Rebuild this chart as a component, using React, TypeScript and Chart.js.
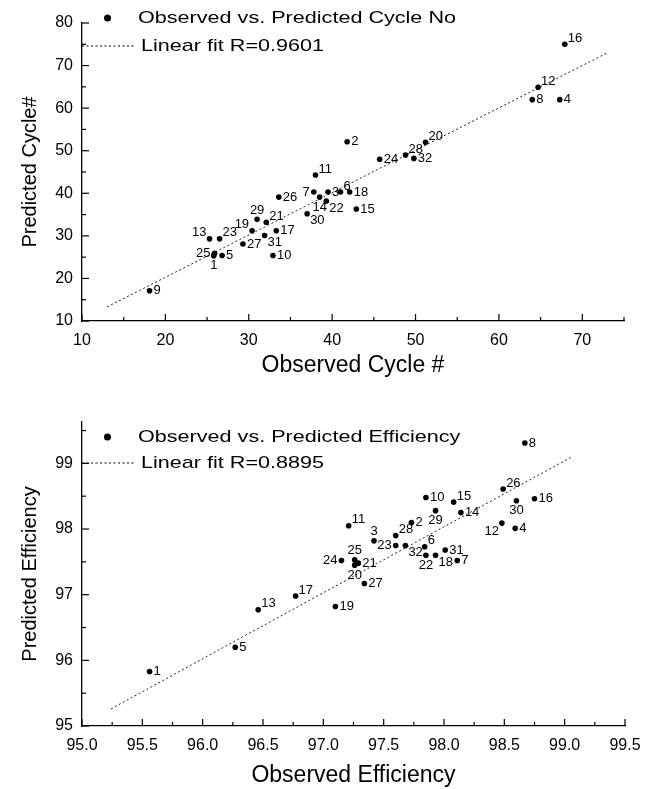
import React, { useEffect, useRef } from "react";
import { Chart, registerables } from "chart.js";

Chart.register(...registerables);

const FONT = '"Liberation Sans", Arial, Helvetica, sans-serif';

// ---------- Chart 1: cycle number ----------
const cycleIds = [1, 2, 3, 4, 5, 6, 7, 8, 9, 10, 11, 12, 13, 14, 15, 16, 17, 18, 19, 20, 21, 22, 23, 24, 25, 26, 27, 28, 29, 30, 31, 32];
const cycleObserved = [25.8, 41.8, 39.5, 67.3, 26.8, 41.0, 37.8, 64.0, 18.1, 32.9, 38.0, 64.7, 25.3, 38.5, 42.9, 67.9, 33.3, 42.1, 30.4, 51.2, 32.1, 39.3, 26.5, 45.7, 25.9, 33.6, 29.3, 48.8, 31.0, 37.0, 31.9, 49.8];
const cyclePredicted = [25.3, 52.1, 40.3, 62.0, 25.4, 40.3, 40.3, 62.0, 17.1, 25.4, 44.3, 64.9, 29.3, 39.1, 36.3, 75.0, 31.2, 40.3, 31.2, 52.0, 33.2, 38.2, 29.3, 48.0, 25.9, 39.1, 28.1, 49.0, 33.9, 35.2, 30.1, 48.2];
const cycleLabelSide = ["b", "r", "r", "r", "r", "ar", "l", "r", "r", "r", "ar", "ar", "al", "b", "r", "ar", "r", "r", "al", "ar", "ar", "br", "ar", "r", "l", "r", "r", "ar", "a", "br", "br", "r"];
const cycleFitObserved = [13.0, 72.9];
const cycleFitPredicted = [13.3, 72.9];
const cycleXTicks = [10, 20, 30, 40, 50, 60, 70];
const cycleXMinor = [15, 25, 35, 45, 55, 65, 75];
const cycleYTicks = [10, 20, 30, 40, 50, 60, 70, 80];
const cycleYMinor = [15, 25, 35, 45, 55, 65, 75];

// ---------- Chart 2: efficiency ----------
const effIds = [1, 2, 3, 4, 5, 6, 7, 8, 10, 11, 12, 13, 14, 15, 16, 17, 18, 19, 20, 21, 22, 23, 24, 25, 26, 27, 28, 29, 30, 31, 32];
const effObserved = [95.56, 97.73, 97.42, 98.59, 96.27, 97.84, 98.11, 98.67, 97.85, 97.21, 98.48, 96.46, 98.14, 98.08, 98.75, 96.77, 97.93, 97.10, 97.26, 97.29, 97.85, 97.60, 97.15, 97.26, 98.49, 97.34, 97.60, 97.93, 98.60, 98.01, 97.68];
const effPredicted = [95.83, 98.10, 97.82, 98.01, 96.20, 97.73, 97.52, 99.31, 98.48, 98.05, 98.09, 96.77, 98.25, 98.41, 98.46, 96.98, 97.60, 96.82, 97.45, 97.48, 97.60, 97.75, 97.52, 97.53, 98.61, 97.17, 97.90, 98.28, 98.43, 97.68, 97.75];
const effLabelSide = ["r", "r", "a", "r", "r", "ar", "r", "r", "r", "ar", "bl", "ar", "r", "ar", "r", "ar", "br", "r", "b", "r", "b", "l", "l", "a", "ar", "r", "ar", "b", "b", "r", "br"];
const effFitObserved = [95.24, 99.05];
const effFitPredicted = [95.26, 99.09];
const effXTicks = [95.0, 95.5, 96.0, 96.5, 97.0, 97.5, 98.0, 98.5, 99.0, 99.5];
const effXMinor = [95.25, 95.75, 96.25, 96.75, 97.25, 97.75, 98.25, 98.75, 99.25];
const effYTicks = [95, 96, 97, 98, 99];
const effYMinor = [95.5, 96.5, 97.5, 98.5, 99.5];

const zip = (xs: number[], ys: number[]) => xs.map((x, i) => ({ x, y: ys[i] }));

const inwardTicksPlugin = {
  id: "inwardTicks",
  afterDraw(chart: any, _args: any, opts: any) {
    const { ctx, chartArea, scales } = chart;
    ctx.save();
    ctx.strokeStyle = "#000";
    ctx.lineWidth = 1.2;
    const line = (x1: number, y1: number, x2: number, y2: number) => {
      ctx.beginPath();
      ctx.moveTo(x1, y1);
      ctx.lineTo(x2, y2);
      ctx.stroke();
    };
    scales.x.ticks.forEach((t: any) => {
      const px = scales.x.getPixelForValue(t.value);
      line(px, chartArea.bottom, px, chartArea.bottom - 7);
    });
    (opts.xMinor || []).forEach((v: number) => {
      const px = scales.x.getPixelForValue(v);
      line(px, chartArea.bottom, px, chartArea.bottom - 4);
    });
    scales.y.ticks.forEach((t: any) => {
      const py = scales.y.getPixelForValue(t.value);
      line(chartArea.left, py, chartArea.left + 7, py);
    });
    (opts.yMinor || []).forEach((v: number) => {
      const py = scales.y.getPixelForValue(v);
      line(chartArea.left, py, chartArea.left + 4, py);
    });
    ctx.restore();
  },
};

const pointLabelsPlugin = {
  id: "pointLabels",
  afterDatasetsDraw(chart: any, _args: any, opts: any) {
    const { ctx } = chart;
    const meta = chart.getDatasetMeta(0);
    ctx.save();
    ctx.fillStyle = "#000";
    ctx.font = `${opts.size}px ${FONT}`;
    ctx.textBaseline = "middle";
    meta.data.forEach((el: any, i: number) => {
      const side = opts.sides[i] || "r";
      const text = String(opts.ids[i]);
      let dx = 4, dy = 0, align: CanvasTextAlign = "left";
      if (side === "r") { dx = 4; dy = 0; align = "left"; }
      else if (side === "l") { dx = -4; dy = 0; align = "right"; }
      else if (side === "a") { dx = 0; dy = -9; align = "center"; }
      else if (side === "b") { dx = 0; dy = 10; align = "center"; }
      else if (side === "ar") { dx = 3; dy = -6; align = "left"; }
      else if (side === "br") { dx = 3; dy = 7; align = "left"; }
      else if (side === "al") { dx = -3; dy = -6; align = "right"; }
      else if (side === "bl") { dx = -3; dy = 8; align = "right"; }
      ctx.textAlign = align;
      ctx.fillText(text, el.x + dx, el.y + dy);
    });
    ctx.restore();
  },
};

const customLegendPlugin = {
  id: "customLegend",
  afterDraw(chart: any, _args: any, opts: any) {
    const { ctx, chartArea } = chart;
    const ds = chart.data.datasets;
    const stretch = opts.stretch || 1;
    const drawText = (text: string, x: number, y: number) => {
      ctx.save();
      ctx.translate(x, y);
      ctx.scale(stretch, 1);
      ctx.fillText(text, 0, 0);
      ctx.restore();
    };
    ctx.save();
    ctx.fillStyle = "#000";
    ctx.font = `${opts.size}px ${FONT}`;
    ctx.textBaseline = "middle";
    ctx.textAlign = "left";
    // marker row
    ctx.beginPath();
    ctx.arc(chartArea.left + 25.5, opts.y1, 3.5, 0, Math.PI * 2);
    ctx.fill();
    drawText(ds[0].label, chartArea.left + 56, opts.y1);
    // fit row
    ctx.strokeStyle = "#000";
    ctx.lineWidth = 1;
    ctx.setLineDash([2, 2.5]);
    ctx.beginPath();
    ctx.moveTo(chartArea.left, opts.y2);
    ctx.lineTo(chartArea.left + 53, opts.y2);
    ctx.stroke();
    ctx.setLineDash([]);
    drawText(ds[1].label, chartArea.left + 59, opts.y2);
    ctx.restore();
  },
};

type PanelProps = {
  height: number;
  top: number;
  ids: number[];
  xs: number[];
  ys: number[];
  sides: string[];
  fitX: number[];
  fitY: number[];
  label: string;
  fitLabel: string;
  xTitle: string;
  yTitle: string;
  xMin: number;
  xMax: number;
  yMin: number;
  yMax: number;
  xTicks: number[];
  yTicks: number[];
  xMinor: number[];
  yMinor: number[];
  xDecimals: number;
  padTop: number;
  padRight: number;
  xAxisHeight: number;
  xTitlePad: number;
  legendY1: number;
  legendY2: number;
};

function Panel(p: PanelProps) {
  const ref = useRef<HTMLCanvasElement | null>(null);
  useEffect(() => {
    if (!ref.current) return;
    const chart = new Chart(ref.current, {
      type: "scatter",
      data: {
        datasets: [
          {
            label: p.label,
            data: zip(p.xs, p.ys),
            backgroundColor: "#000",
            borderColor: "#000",
            pointRadius: 2.8,
            pointHoverRadius: 2.8,
            borderWidth: 0,
          },
          {
            label: p.fitLabel,
            data: zip(p.fitX, p.fitY),
            showLine: true,
            borderColor: "#222",
            borderWidth: 1,
            borderDash: [2, 2.5],
            pointRadius: 0,
            fill: false,
          },
        ],
      },
      options: {
        responsive: false,
        animation: false,
        events: [],
        layout: { padding: { top: p.padTop, right: p.padRight, left: 0, bottom: 0 } },
        plugins: {
          legend: { display: false },
          tooltip: { enabled: false },
          inwardTicks: { xMinor: p.xMinor, yMinor: p.yMinor },
          pointLabels: { ids: p.ids, sides: p.sides, size: 13 },
          customLegend: { size: 17, stretch: 1.27, y1: p.legendY1, y2: p.legendY2 },
        } as any,
        scales: {
          x: {
            type: "linear",
            min: p.xMin,
            max: p.xMax,
            grid: { display: false, drawTicks: false },
            border: { display: true, color: "#000", width: 1.3 },
            afterBuildTicks: (s: any) => {
              s.ticks = p.xTicks.map((v) => ({ value: v }));
            },
            afterFit: (s: any) => {
              s.height = p.xAxisHeight;
            },
            ticks: {
              color: "#000",
              padding: 10,
              font: { family: FONT, size: 16 },
              maxRotation: 0,
              autoSkip: false,
              callback: (v: any) => Number(v).toFixed(p.xDecimals),
            },
            title: {
              display: true,
              text: p.xTitle,
              color: "#000",
              font: { family: FONT, size: 23 },
              padding: { top: 0, bottom: p.xTitlePad },
            },
          },
          y: {
            type: "linear",
            min: p.yMin,
            max: p.yMax,
            grid: { display: false, drawTicks: false },
            border: { display: true, color: "#000", width: 1.3 },
            afterBuildTicks: (s: any) => {
              s.ticks = p.yTicks.map((v) => ({ value: v }));
            },
            afterFit: (s: any) => {
              s.width = 82;
            },
            ticks: {
              color: "#000",
              padding: 9,
              font: { family: FONT, size: 16 },
              autoSkip: false,
              callback: (v: any) => String(v),
            },
            title: {
              display: true,
              text: p.yTitle,
              color: "#000",
              font: { family: FONT, size: 20 },
              padding: { top: 18, bottom: 0 },
            },
          },
        },
      },
      plugins: [inwardTicksPlugin, pointLabelsPlugin, customLegendPlugin],
    });
    return () => chart.destroy();
  }, []);
  return (
    <canvas
      ref={ref}
      width={653}
      height={p.height}
      style={{ position: "absolute", left: 0, top: p.top, width: 653, height: p.height, display: "block" }}
    />
  );
}

export default function App() {
  return (
    <div style={{ position: "absolute", left: 0, top: 0, width: 653, height: 789, background: "#fff" }}>
      <Panel
        height={394}
        top={0}
        ids={cycleIds}
        xs={cycleObserved}
        ys={cyclePredicted}
        sides={cycleLabelSide}
        fitX={cycleFitObserved}
        fitY={cycleFitPredicted}
        label="Observed vs. Predicted Cycle No"
        fitLabel="Linear fit R=0.9601"
        xTitle="Observed Cycle #"
        yTitle="Predicted Cycle#"
        xMin={10}
        xMax={75}
        yMin={10}
        yMax={80}
        xTicks={cycleXTicks}
        yTicks={cycleYTicks}
        xMinor={cycleXMinor}
        yMinor={cycleYMinor}
        xDecimals={0}
        padTop={23}
        padRight={29}
        xAxisHeight={73}
        xTitlePad={15}
        legendY1={18}
        legendY2={46}
      />
      <Panel
        height={395}
        top={394}
        ids={effIds}
        xs={effObserved}
        ys={effPredicted}
        sides={effLabelSide}
        fitX={effFitObserved}
        fitY={effFitPredicted}
        label="Observed vs. Predicted Efficiency"
        fitLabel="Linear fit R=0.8895"
        xTitle="Observed Efficiency"
        yTitle="Predicted Efficiency"
        xMin={95}
        xMax={99.5}
        yMin={95}
        yMax={99.63}
        xTicks={effXTicks}
        yTicks={effYTicks}
        xMinor={effXMinor}
        yMinor={effYMinor}
        xDecimals={1}
        padTop={28}
        padRight={28}
        xAxisHeight={63}
        xTitlePad={0}
        legendY1={43}
        legendY2={69}
      />
    </div>
  );
}
